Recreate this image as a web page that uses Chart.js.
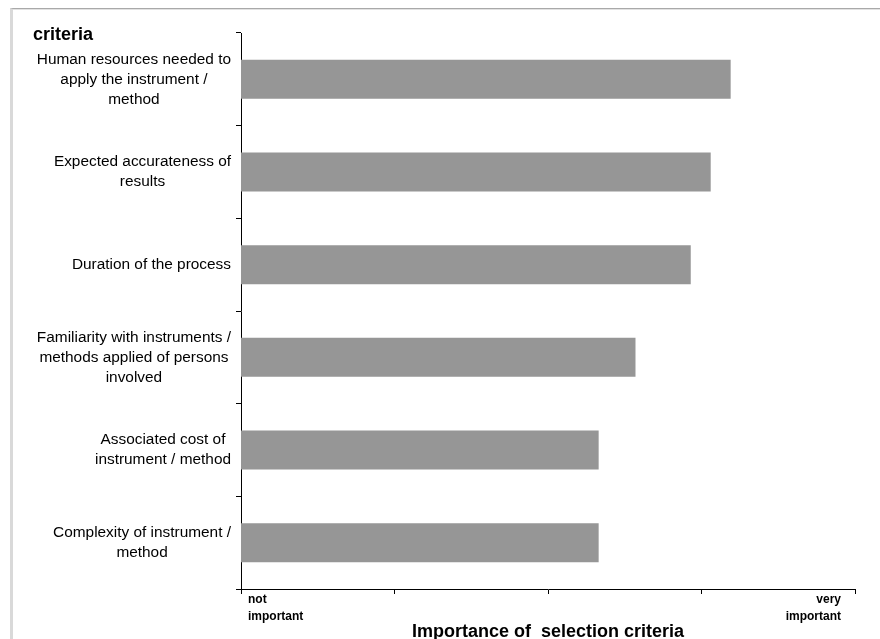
<!DOCTYPE html>
<html>
<head>
<meta charset="utf-8">
<script src="https://cdn.jsdelivr.net/npm/chart.js@4/dist/chart.umd.min.js"></script>
<style>
  html, body { margin: 0; padding: 0; background: #fff; overflow: hidden; }
  #wrap { position: relative; width: 880px; height: 639px; }
  #frame {
    position: absolute; left: 10px; top: 8px; right: 0; bottom: 0;
    border-top: 1px solid #a9a9a9; border-left: 3px solid #d9d9d9;
    box-shadow: inset 0 1px 0 #e2e2e2;
  }
  canvas { position: absolute; left: 0; top: 0; }
</style>
</head>
<body>
<div id="wrap"><div id="frame"></div><canvas id="chart" width="880" height="639"></canvas></div>
<script>
// Selection criteria (top to bottom), one array entry per label line
const criteria = [
  ['Human resources needed to', 'apply the instrument /', 'method'],
  ['Expected accurateness of', 'results'],
  ['Duration of the process'],
  ['Familiarity with instruments /', 'methods applied of persons', 'involved'],
  ['Associated cost of', 'instrument / method'],
  ['Complexity of instrument /', 'method']
];

// Mean rated importance on a 1 (not important) .. 5 (very important) scale
const importance = [4.19, 4.06, 3.93, 3.57, 3.33, 3.33];

// Scale ends and their tick labels
const scaleMin = 1;
const scaleMax = 5;
const lowLabel = ['not', 'important'];
const highLabel = ['very', 'important'];

const FONT = '"Liberation Sans", Arial, Helvetica, sans-serif';

// Category labels: each block centred on itself, block right-aligned to the axis.
// Scale-end labels: left one starts after the axis origin, right one ends before the axis end.
const tickPlacement = {
  id: 'tickPlacement',
  beforeDraw(chart) {
    const ctx = chart.ctx;
    const ys = chart.scales.y;
    const gap = ys.options.grid.tickLength + ys.options.ticks.padding;
    ys.getLabelItems().forEach(item => {
      if (item._placed) return;
      const lines = [].concat(item.label);
      ctx.save();
      ctx.font = item.font.string;
      const w = Math.max(...lines.map(l => ctx.measureText(l).width));
      ctx.restore();
      item.options.textAlign = 'center';
      item.options.translation[0] = ys.right - gap - w / 2;
      item._placed = true;
    });
    const xs = chart.scales.x;
    const xItems = xs.getLabelItems();
    if (xItems.length) {
      const first = xItems[0], last = xItems[xItems.length - 1];
      if (!first._placed) {
        first.options.textAlign = 'left';
        first.options.translation[0] = xs.left + 7;
        first._placed = true;
      }
      if (!last._placed) {
        last.options.textAlign = 'right';
        last.options.translation[0] = xs.right - 14;
        last._placed = true;
      }
    }
  }
};

// Heading of the category axis, written above the labels
const axisHeading = {
  id: 'axisHeading',
  afterDraw(chart, args, opts) {
    const ctx = chart.ctx;
    ctx.save();
    ctx.font = 'bold 18px ' + FONT;
    ctx.fillStyle = '#000';
    ctx.textAlign = 'left';
    ctx.textBaseline = 'alphabetic';
    ctx.fillText(opts.text, 33, chart.chartArea.top + 7);
    ctx.restore();
  }
};

new Chart(document.getElementById('chart'), {
  type: 'bar',
  data: {
    labels: criteria,
    datasets: [{
      data: importance,
      backgroundColor: '#969696',
      borderWidth: 0,
      barPercentage: 0.42,
      categoryPercentage: 1
    }]
  },
  plugins: [tickPlacement, axisHeading],
  options: {
    indexAxis: 'y',
    responsive: false,
    animation: false,
    layout: { padding: { top: 33, right: 25, bottom: 0, left: 0 } },
    plugins: {
      legend: { display: false },
      tooltip: { enabled: false },
      axisHeading: { text: 'criteria' }
    },
    scales: {
      x: {
        type: 'linear',
        min: scaleMin,
        max: scaleMax,
        afterFit(s) { s.height = 50; s.paddingLeft = 0; s.paddingRight = 0; },
        border: { display: true, color: '#000', width: 1 },
        grid: { drawOnChartArea: false, drawTicks: true, tickLength: 5, tickColor: '#000' },
        ticks: {
          stepSize: 1,
          autoSkip: false,
          maxRotation: 0,
          padding: -3,
          color: '#000',
          font: { family: FONT, size: 12, weight: 'bold', lineHeight: '17px' },
          callback: v => v === scaleMin ? lowLabel : (v === scaleMax ? highLabel : '')
        },
        title: {
          display: true,
          text: 'Importance of  selection criteria',
          color: '#000',
          font: { family: FONT, size: 18, weight: 'bold', lineHeight: 1.2 },
          padding: { top: 0, bottom: -4 }
        }
      },
      y: {
        type: 'category',
        offset: true,
        afterFit(s) { s.width = 241; s.paddingTop = 0; s.paddingBottom = 0; },
        border: { display: true, color: '#000', width: 1 },
        grid: { offset: true, drawOnChartArea: false, drawTicks: true, tickLength: 5, tickColor: '#000' },
        ticks: {
          autoSkip: false,
          padding: 5,
          crossAlign: 'near',
          color: '#000',
          font: { family: FONT, size: 15.4, lineHeight: '20px' }
        }
      }
    }
  }
});
</script>
</body>
</html>
